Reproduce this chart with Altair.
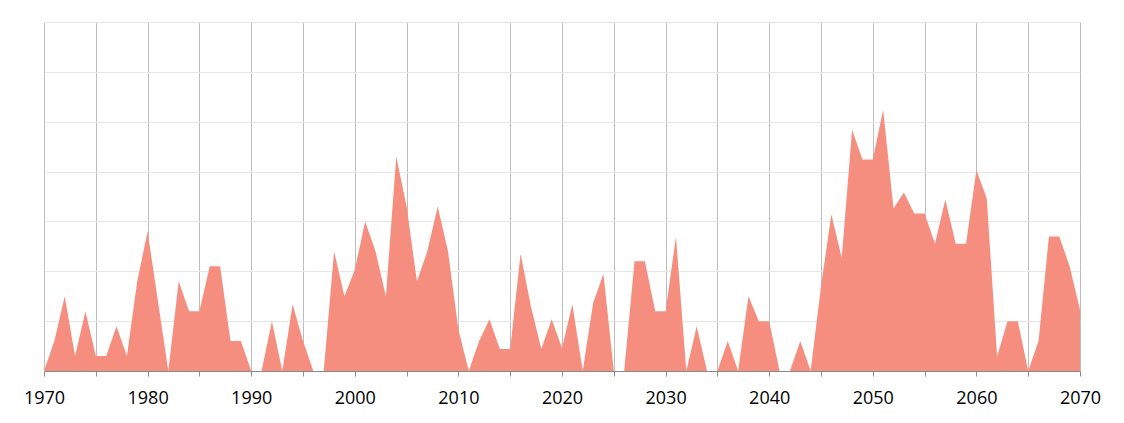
import altair as alt
import pandas as pd

years = list(range(1970, 2071))
values = [
    0, 6, 15, 3, 12, 3, 3, 9, 3, 18,          # 1970-1979
    28, 14, 0, 18, 12, 12, 21, 21, 6, 6,      # 1980-1989
    0, 0, 10, 0, 13.4, 6, 0, 0, 24, 15,       # 1990-1999
    20.3, 30, 24, 15, 43, 33, 18, 24, 33, 24, # 2000-2009
    8.3, 0, 6, 10.4, 4.4, 4.4, 23.5, 13, 4.4, 10.4,  # 2010-2019
    4.6, 13.4, 0, 13.6, 19.5, 0, 0, 22, 22, 12,      # 2020-2029
    12, 27, 0, 9, 0, 0, 6, 0, 15, 10,                # 2030-2039
    10, 0, 0, 6, 0, 17, 31.4, 22.7, 48.4, 42.4,      # 2040-2049
    42.4, 52.4, 32.6, 35.8, 31.6, 31.6, 25.5, 34.4, 25.5, 25.5,  # 2050-2059
    40.3, 34.6, 2.9, 10, 10, 0, 6, 27, 27, 21,       # 2060-2069
    12.3,                                             # 2070
]

df = pd.DataFrame({"year": years, "value": values})

chart = alt.Chart(df).mark_area(
    color="#F68E7F", opacity=1, interpolate="linear"
).encode(
    x=alt.X(
        "year:Q",
        scale=alt.Scale(domain=[1970, 2070], nice=False, zero=False),
        axis=alt.Axis(
            title=None,
            values=list(range(1970, 2071, 5)),
            format="d",
            labelExpr="datum.value % 10 == 0 ? datum.label : ''",
            labelFlush=False,
            labelOverlap=False,
            grid=True,
            gridColor="#BDBDBD",
            gridWidth=1,
            domainColor="#8A8A8A",
            tickColor="#8A8A8A",
            tickSize=5,
            labelFont="Open Sans",
            labelFontSize=18,
            labelColor="#000000",
            labelPadding=13,
        ),
    ),
    y=alt.Y(
        "value:Q",
        scale=alt.Scale(domain=[0, 70], nice=False),
        axis=alt.Axis(
            title=None,
            values=list(range(0, 71, 10)),
            labels=False,
            ticks=False,
            domain=False,
            grid=True,
            gridColor="#E6E6E6",
            gridWidth=1,
        ),
    ),
).properties(
    width=1036,
    height=349,
    autosize=alt.AutoSizeParams(type="none"),
    padding={"left": 36, "top": 14, "right": 28, "bottom": 36},
).configure_view(stroke=None)

chart.save("out.html", embed_options={"renderer": "svg", "actions": False})
